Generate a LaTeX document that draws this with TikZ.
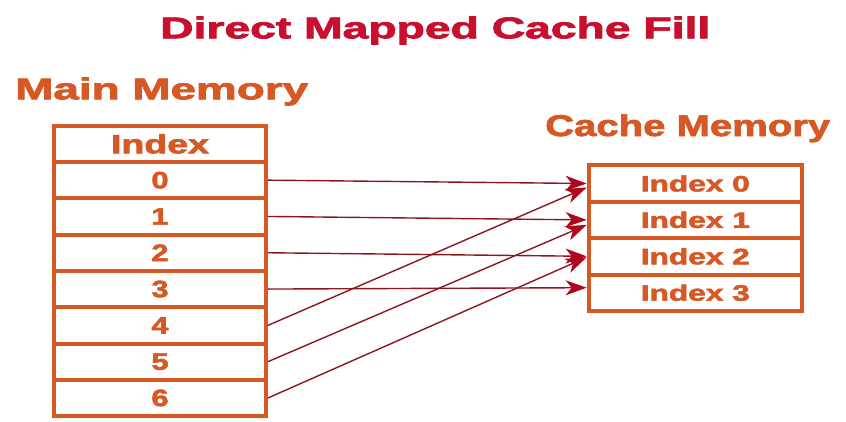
\documentclass[tikz,border=0pt]{standalone}
\usepackage{fontspec}
\setmainfont{Liberation Sans}
\newfontfamily\heavyfont{Liberation Sans Bold}[FakeBold=2.2]
\usetikzlibrary{arrows.meta}

\definecolor{titlered}{RGB}{200,16,46}
\definecolor{memorange}{RGB}{214,88,36}
\definecolor{linkred}{RGB}{140,22,32}
\definecolor{tipred}{RGB}{175,8,30}

% stretch a piece of text to a given width, keeping its height
\newcommand{\widetext}[2]{\resizebox{#1}{\height}{#2}}

\begin{document}
\begin{tikzpicture}[x=1pt,y=-1pt,
  heading/.style={anchor=base west, inner sep=0, font=\fontsize{30}{30}\selectfont\heavyfont},
  mcell/.style={draw=memorange, line width=4pt, minimum width=212pt, minimum height=36.3pt,
    inner sep=0, text=memorange, font=\fontsize{23.7}{24}\selectfont\heavyfont},
  ccell/.style={draw=memorange, line width=4pt, minimum width=213.3pt, minimum height=36.4pt,
    inner sep=0, text=memorange, font=\fontsize{22.3}{23}\selectfont\heavyfont},
  link/.style={draw=linkred, line width=1.4pt,
    -{Stealth[length=21pt,width=15pt,inset=6pt,color=tipred]}}
]
\useasboundingbox (0,0) rectangle (846,421);

% headings
\node[heading, text=titlered] (title) at (160,38.3) {\widetext{550pt}{Direct Mapped Cache Fill}};
\node[heading, text=memorange] (mainlbl) at (15,99.3) {\widetext{293pt}{Main Memory}};
\node[heading, text=memorange] (cachelbl) at (545,136) {\widetext{285pt}{Cache Memory}};

% main memory table
\node[mcell] (mh) at (160,143.85) {\fontsize{26.5}{27}\selectfont\widetext{98pt}{Index}};
\foreach \i in {0,...,6}
  \node[mcell] (m\i) at (160,{125.7+36.3*(\i+1.5)}) {\scalebox{1.3}[1]{\i}};

% cache memory table
\foreach \i in {0,...,3}
  \node[ccell] (c\i) at (695.3,{165.3+36.4*(\i+0.5)}) {\widetext{109pt}{Index \i}};

% block i goes to line i mod 4
\foreach \i in {0,...,2}
  \draw[link] (m\i.east) -- (c\i.west);
\draw[link] (m3.east) -- ([yshift=5pt]c3.west);
\draw[link] (m4.east) -- ([yshift=-4pt]c0.west);
\draw[link] (m5.east) -- ([yshift=-5pt]c1.west);
\draw[link] (m6.east) -- ([yshift=-1pt]c2.west);
\end{tikzpicture}
\end{document}
